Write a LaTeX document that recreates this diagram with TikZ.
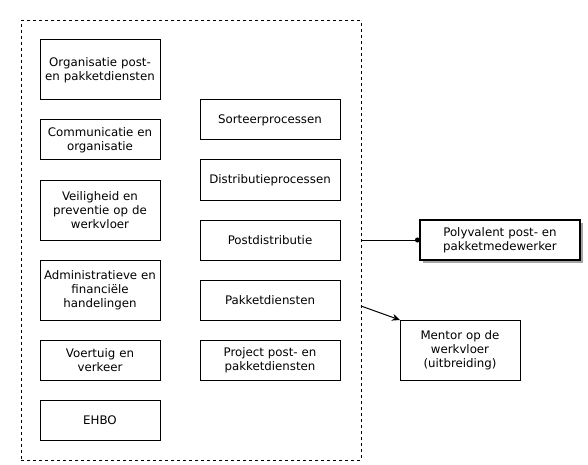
\documentclass[tikz,border=0pt]{standalone}
\usepackage{fontspec}
\setmainfont{DejaVu Sans}
\usetikzlibrary{arrows.meta,positioning,shadows,calc}

\begin{document}
\begin{tikzpicture}[x=1pt, y=-1pt, node distance=20pt and 40pt, line width=1pt,
    every node/.style={font=\fontsize{11.8}{14}\selectfont, outer sep=0pt},
    box/.style={draw, align=center, inner sep=2pt},
    lbox/.style={box, text width=116pt, minimum width=120pt},
    rbox/.style={box, text width=136pt, minimum width=140pt, minimum height=40pt}]
    \useasboundingbox (0,0) rectangle (588,465);

    % group frame
    \node[draw, dash pattern=on 3pt off 3pt, minimum width=340pt, minimum height=439pt, inner sep=0pt] (grp) at (191,240.5) {};

    % left column
    \node[lbox, minimum height=60pt] (org) at (100,70) {Organisatie post-\\en pakketdiensten};
    \node[lbox, minimum height=40pt, below=of org] (com) {Communicatie en\\organisatie};
    \node[lbox, minimum height=60pt, below=of com] (veil) {Veiligheid en\\preventie op de\\werkvloer};
    \node[lbox, minimum height=60pt, below=of veil] (adm) {Administratieve en\\financiële\\handelingen};
    \node[lbox, minimum height=40pt, below=of adm] (voer) {Voertuig en\\verkeer};
    \node[lbox, minimum height=40pt, below=of voer] (ehbo) {EHBO};

    % right column
    \node[rbox] (sort) at (270,120) {Sorteerprocessen};
    \node[rbox, below=of sort] (distr) {Distributieprocessen};
    \node[rbox, below=of distr] (post) {Postdistributie};
    \node[rbox, below=of post] (pakket) {Pakketdiensten};
    \node[rbox, below=of pakket] (proj) {Project post- en\\pakketdiensten};

    % outcomes
    \node[box, line width=2pt, text width=156pt, minimum width=160pt, minimum height=40pt, fill=white,
        drop shadow={shadow xshift=3pt, shadow yshift=-3pt, fill=gray, opacity=0.7},
        right=80pt of post] (poly) {Polyvalent post- en\\pakketmedewerker};
    \node[box, text width=116pt, minimum width=120pt, minimum height=60pt] (mentor) at (460,350) {Mentor op de\\werkvloer\\(uitbreiding)};

    \draw[-{Circle[length=5pt]}] (post -| grp.east) -- (poly.west);
    \draw[-{Stealth[length=8pt, width=7pt]}] ($(pakket -| grp.east)+(0,6)$) -- (mentor.north west);
\end{tikzpicture}
\end{document}
